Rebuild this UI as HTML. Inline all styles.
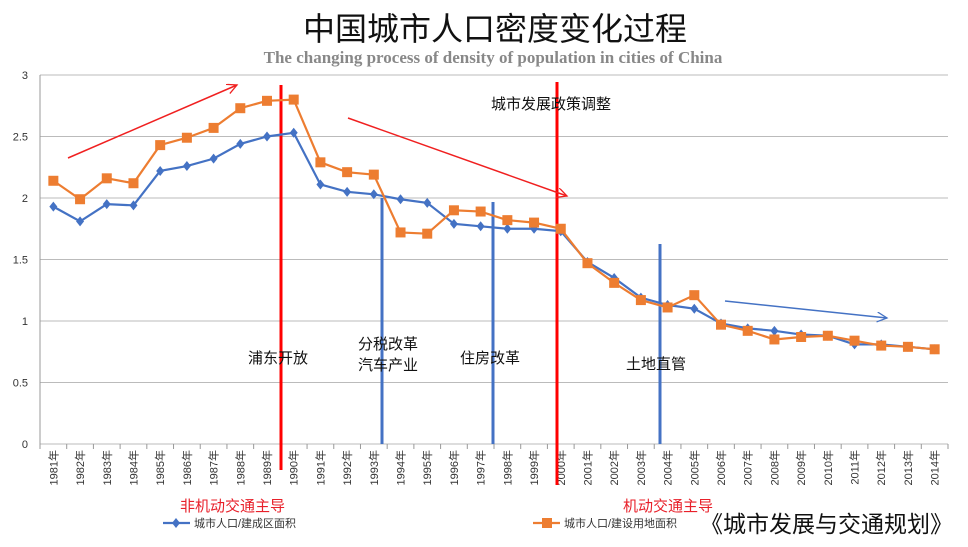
<!DOCTYPE html>
<html><head><meta charset="utf-8"><style>
body{margin:0;background:#fff;}
svg text{font-family:"Liberation Sans","Noto Sans CJK SC",sans-serif;}
</style></head><body>
<svg id="chart" width="968" height="542" viewBox="0 0 968 542" xmlns="http://www.w3.org/2000/svg">
<defs>
<marker id="ar" markerWidth="12" markerHeight="12" refX="10" refY="5" orient="auto" markerUnits="userSpaceOnUse"><path d="M0,0 L10,5 L0,10" fill="none" stroke="#f02020" stroke-width="1.3"/></marker>
<marker id="ab" markerWidth="12" markerHeight="12" refX="10" refY="5" orient="auto" markerUnits="userSpaceOnUse"><path d="M0,0 L10,5 L0,10" fill="none" stroke="#4472c4" stroke-width="1.3"/></marker>
</defs>
<text x="495" y="40" text-anchor="middle" font-size="32" fill="#111">中国城市人口密度变化过程</text>
<text x="493" y="63" text-anchor="middle" font-size="17" font-weight="bold" fill="#888" style="font-family:'Liberation Serif',serif">The changing process of density of population in cities of China</text>
<g id="grid"></g><g id="xaxis"></g><g id="ann"></g><g id="series"></g>
</svg>
<script>
const categories=[];for(let y=1981;y<=2014;y++)categories.push(y+'年');
const builtAreaDensity=[1.93,1.81,1.95,1.94,2.22,2.26,2.32,2.44,2.50,2.53,2.11,2.05,2.03,1.99,1.96,1.79,1.77,1.75,1.75,1.73,1.48,1.35,1.19,1.13,1.10,0.98,0.94,0.92,0.89,0.88,0.81,0.81,0.79,0.77];
const landUseDensity=[2.14,1.99,2.16,2.12,2.43,2.49,2.57,2.73,2.79,2.80,2.29,2.21,2.19,1.72,1.71,1.90,1.89,1.82,1.80,1.75,1.47,1.31,1.17,1.11,1.21,0.97,0.92,0.85,0.87,0.88,0.84,0.80,0.79,0.77];
const yTicks=[0,0.5,1,1.5,2,2.5,3];
const yTickLabels=['0','0.5','1','1.5','2','2.5','3'];
const NS='http://www.w3.org/2000/svg';
const L=40,R=948,T=75,B=444,ymax=3;
const bw=(R-L)/categories.length;
const x=i=>L+bw*(i+0.5);
const y=v=>B-(v/ymax)*(B-T);
function mk(tag,attrs,parent){const e=document.createElementNS(NS,tag);for(const k in attrs)e.setAttribute(k,attrs[k]);parent.appendChild(e);return e;}
const grid=document.getElementById('grid'),xa=document.getElementById('xaxis'),ann=document.getElementById('ann'),ser=document.getElementById('series'),svg=document.getElementById('chart');
yTicks.forEach((t,i)=>{
 const g=mk('line',{x1:L,x2:R,y1:y(t),y2:y(t),stroke:'#bbb','stroke-width':1},grid);
 
 
 const tx=mk('text',{x:L-12,y:y(t)+4,'text-anchor':'end','font-size':11,fill:'#333'},grid);
 tx.textContent=yTickLabels[i];
 
 
});
mk('line',{x1:L,x2:L,y1:T,y2:B,stroke:'#999'},grid);
categories.forEach((c,i)=>{
 mk('line',{x1:L+bw*i,x2:L+bw*i,y1:B,y2:B+5,stroke:'#999'},xa);
 const tx=mk('text',{transform:`translate(${x(i)+4},${B+6}) rotate(-90)`,'text-anchor':'end','font-size':11,fill:'#333'},xa);
 tx.textContent=c;
 
 
});
mk('line',{x1:R,x2:R,y1:B,y2:B+5,stroke:'#999'},xa);
// annotation lines
[[281,85,470,'#f00','policy-line-1990'],[382,198,444,'#4472c4','policy-line-1993'],[493,202,444,'#4472c4','policy-line-1997'],[557,82,485,'#f00','policy-line-2000'],[660,244,444,'#4472c4','policy-line-2004']].forEach(a=>{
 const l=mk('line',{x1:a[0],x2:a[0],y1:a[1],y2:a[2],stroke:a[3],'stroke-width':3},ann);
 
 
});
[[68,158,237,85,'ar','#f02020'],[348,118,567,196,'ar','#f02020'],[725,301,887,318,'ab','#4472c4']].forEach(a=>{
 const l=mk('line',{x1:a[0],y1:a[1],x2:a[2],y2:a[3],stroke:a[5],'stroke-width':1.5,'marker-end':`url(#${a[4]})`},ann);
 
 
});
[['浦东开放',248,363,'#111'],['分税改革',358,349,'#111'],['汽车产业',358,370,'#111'],['住房改革',460,363,'#111'],['土地直管',626,369,'#111'],['城市发展政策调整',491,109,'#111'],['非机动交通主导',180,511,'#e8202a'],['机动交通主导',623,511,'#e8202a']].forEach(a=>{
 const t=mk('text',{x:a[1],y:a[2],'font-size':15,fill:a[3]},ann);t.textContent=a[0];
 
 
});
function series(vals,col,sq,name){
 const p=mk('polyline',{points:vals.map((v,i)=>x(i)+','+y(v)).join(' '),fill:'none',stroke:col,'stroke-width':2.2},ser);
 
 
 vals.forEach((v,i)=>{
  let m;
  if(sq)m=mk('rect',{x:x(i)-5,y:y(v)-5,width:10,height:10,fill:col},ser);
  else m=mk('path',{d:`M${x(i)},${y(v)-5}L${x(i)+4},${y(v)}L${x(i)},${y(v)+5}L${x(i)-4},${y(v)}Z`,fill:col},ser);
  
  
 });
}
series(builtAreaDensity,'#4472c4',false,'built-area-density');
series(landUseDensity,'#ed7d31',true,'land-use-density');
// legend
const lg=mk('g',{},svg);


mk('line',{x1:163,x2:190,y1:523,y2:523,stroke:'#4472c4','stroke-width':2.2},lg);
mk('path',{d:'M176,518L180,523L176,528L172,523Z',fill:'#4472c4'},lg);
let t1=mk('text',{x:194,y:527,'font-size':11,fill:'#333'},lg);t1.textContent='城市人口/建成区面积';
mk('line',{x1:533,x2:560,y1:523,y2:523,stroke:'#ed7d31','stroke-width':2.2},lg);
mk('rect',{x:542,y:518,width:10,height:10,fill:'#ed7d31'},lg);
let t2=mk('text',{x:564,y:527,'font-size':11,fill:'#333'},lg);t2.textContent='城市人口/建设用地面积';
let bk=mk('text',{x:700,y:532,'font-size':23,fill:'#111'},svg);bk.textContent='《城市发展与交通规划》';


</script>
</body></html>
